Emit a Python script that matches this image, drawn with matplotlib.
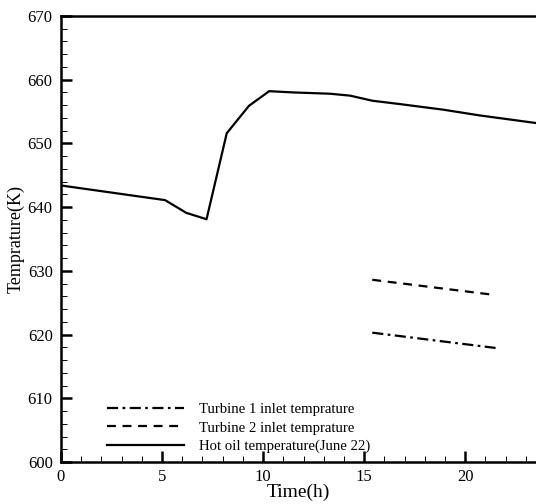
import matplotlib
matplotlib.use("Agg")
import matplotlib.pyplot as plt
from matplotlib.ticker import MultipleLocator

plt.rcParams['font.family'] = ['Liberation Serif', 'DejaVu Serif']

# hot oil temperature (June 22)
t_oil = [0, 5.15, 6.2, 7.2, 8.2, 9.3, 10.3, 11.5, 13.3, 14.3, 15.4, 16.7, 18.9, 20.7, 23.5]
T_oil = [643.4, 641.1, 639.1, 638.1, 651.6, 655.9, 658.2, 658.0, 657.8, 657.5, 656.7, 656.2, 655.3, 654.4, 653.2]

# turbine inlet temperatures
t_turb = [15.4, 21.5]
T_turb1 = [620.3, 617.9]
T_turb2 = [628.6, 626.2]

fig = plt.figure(figsize=(5.36, 5.04), dpi=100)
ax = fig.add_axes([0.1138, 0.0833, 0.8862, 0.885])

ax.plot(t_turb, T_turb1, color='black', lw=1.6, linestyle=(0, (5, 2, 1.2, 2)),
        label='Turbine 1 inlet temprature')
ax.plot(t_turb, T_turb2, color='black', lw=1.6, linestyle=(0, (4, 3)),
        label='Turbine 2 inlet temprature')
ax.plot(t_oil, T_oil, color='black', lw=1.6, label='Hot oil temperature(June 22)')

ax.set_xlim(0, 23.5)
ax.set_ylim(600, 670)
ax.xaxis.set_major_locator(MultipleLocator(5))
ax.xaxis.set_minor_locator(MultipleLocator(1))
ax.yaxis.set_major_locator(MultipleLocator(10))
ax.yaxis.set_minor_locator(MultipleLocator(2))
ax.tick_params(which='both', direction='in', top=False, right=False, labelsize=12)
ax.tick_params(which='major', length=8, width=1.8)
ax.tick_params(which='minor', length=4, width=0.7)
ax.tick_params(axis='x', pad=5)
ax.tick_params(axis='y', pad=6)
for s in ['left', 'bottom', 'top']:
    ax.spines[s].set_linewidth(1.8)
ax.spines['right'].set_visible(False)

ax.set_xlabel('Time(h)', fontsize=14, labelpad=-1)
ax.set_ylabel('Temprature(K)', fontsize=13, labelpad=2)

ax.legend(loc='lower left', bbox_to_anchor=(0.07, -0.01), frameon=False,
          fontsize=10.6, handlelength=5.2, handletextpad=1.0, labelspacing=0.35)

fig.savefig('out.png', dpi=100)
